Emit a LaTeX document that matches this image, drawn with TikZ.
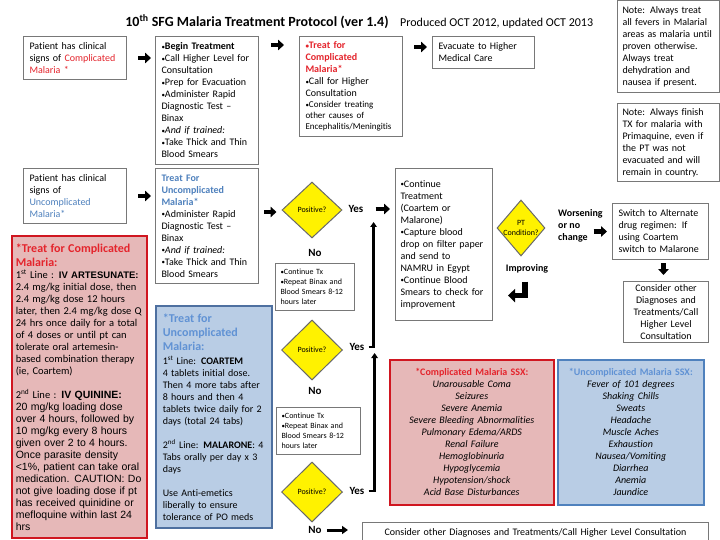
\documentclass[tikz,border=0pt]{standalone}
\usepackage{fontspec}
\setmainfont[Ligatures=NoCommon]{Carlito}
\newfontfamily\arialf{Liberation Sans}
\usetikzlibrary{arrows.meta,positioning,calc,shapes.geometric}
\definecolor{boxline}{RGB}{120,120,120}
\definecolor{cred}{RGB}{228,36,44}
\definecolor{redline}{RGB}{208,22,32}
\definecolor{redfill}{RGB}{230,184,184}
\definecolor{cblue}{RGB}{79,129,189}
\definecolor{ltblue}{RGB}{96,146,212}
\definecolor{bluefill}{RGB}{185,205,229}
\definecolor{blueline}{RGB}{78,112,160}
\definecolor{diaedge}{RGB}{105,105,105}
\newcommand\bul{\raisebox{0.4pt}{\fontsize{7}{7}\selectfont\textbullet}}
\tikzset{
  box/.style={draw=boxline, fill=white, line width=1pt, anchor=north west,
              inner xsep=6pt, inner ysep=4pt, align=left,
              font=\fontsize{10}{12}\selectfont},
  smallbox/.style={box, inner xsep=5pt, font=\fontsize{8}{10}\selectfont},
  redbox/.style={box, draw=redline, fill=redfill, line width=1.6pt},
  bluebox/.style={box, draw=blueline, fill=bluefill, line width=1.6pt},
  dia/.style={diamond, draw=diaedge, fill=yellow, line width=1pt, inner sep=0pt,
              align=center, font=\fontsize{8}{9.5}\selectfont},
  dialbl/.style={align=center, font=\fontsize{8}{9.5}\selectfont},
  ans/.style={font=\fontsize{11}{13}\selectfont\bfseries, inner sep=1pt},
  lbl/.style={font=\fontsize{10}{12}\selectfont\bfseries, inner sep=1pt, align=left},
  blkarr/.style={-{Triangle[length=6pt,width=10.5pt]}, line width=4.5pt},
  retarr/.style={-{Triangle[length=7pt,width=13pt]}, line width=5.5pt, line join=miter},
  uparr/.style={-{Triangle[length=5pt,width=6.5pt]}, line width=2.4pt},
  noarr/.style={-{Triangle[length=6pt,width=8pt]}, line width=3pt},
}
\begin{document}
\begin{tikzpicture}[x=1pt, y=-1pt]
  \useasboundingbox (0,0) rectangle (720,540);
  \node[font=\fontsize{14}{16}\selectfont\bfseries, anchor=base, inner sep=0pt] (title) at (257,27)
    {10\textsuperscript{th} SFG Malaria Treatment Protocol (ver 1.4)};
  \node[font=\fontsize{12}{14}\selectfont, anchor=base west, inner sep=0pt] (prod) at (400,27)
    {Produced OCT 2012, updated OCT 2013};

  \node[box, text width=91pt, minimum height=43pt] (a1) at (23,36)
    {Patient has clinical\\signs of \textcolor{cred}{Complicated}\\\textcolor{cred}{Malaria *}};
  \node[box, text width=91pt, minimum height=128pt] (a2) at (155,36)
    {\bul\textbf{Begin Treatment}\\\bul Call Higher Level for\\Consultation\\\bul Prep for Evacuation\\
     \bul Administer Rapid\\Diagnostic Test --\\Binax\\\bul\textit{And if trained:}\\
     \bul Take Thick and Thin\\Blood Smears};
  \node[box, text width=91pt, minimum height=100pt] (a3) at (299,36)
    {\textcolor{cred}{\bfseries\bul Treat for\\Complicated\\Malaria*}\\\bul Call for Higher\\Consultation\par
     {\fontsize{9}{11}\selectfont\bul Consider treating\\other causes of\\Encephalitis/Meningitis\par}};
  \node[box, text width=90pt, minimum height=32pt] (a4) at (432,36)
    {Evacuate to Higher\\Medical  Care};
  \node[box, inner xsep=5pt, text width=92pt, minimum height=92pt] (n1) at (617,0)
    {Note:  Always treat\\all fevers in Malarial\\areas as malaria until\\proven otherwise.\\
     Always  treat\\dehydration and\\nausea if present.};
  \node[box, inner xsep=5pt, text width=92pt, minimum height=78pt] (n2) at (617,103)
    {Note:  Always finish\\TX for malaria with\\Primaquine, even if\\the PT was not\\
     evacuated and will\\remain in country.};

  \node[box, text width=91pt, minimum height=55pt] (b1) at (23,168)
    {Patient has clinical\\signs of\\\textcolor{cblue}{Uncomplicated}\\\textcolor{cblue}{Malaria*}};
  \node[box, text width=91pt, minimum height=115pt] (b2) at (155,168)
    {\textcolor{cblue}{\bfseries Treat For\\Uncomplicated\\Malaria*}\\\bul Administer Rapid\\
     Diagnostic Test --\\Binax\\\bul\textit{And if trained:}\\\bul Take Thick and Thin\\Blood Smears};
  \node[dia, minimum width=60pt, minimum height=56pt] (d1) at (312,210) {Positive?};
  \node[ans] (yes1) at (356,209) {Yes};
  \node[ans] (no1) at (315,253) {No};
  \node[smallbox, text width=69pt, minimum height=47pt] (c1) at (275,263)
    {\bul Continue Tx\\\bul Repeat Binax and\\Blood Smears  8-12\\hours later};
  \node[box, inner xsep=5pt, text width=87pt, minimum height=152pt] (b3) at (395,168)
    {\bul Continue\\Treatment\\(Coartem or\\Malarone)\\\bul Capture blood\\drop on filter paper\\
     and send to\\NAMRU in Egypt\\\bul Continue Blood\\Smears to check for\\improvement};
  \node[dia, minimum width=48pt, minimum height=56pt,
        label={[dialbl]center:PT\\Condition?}] (d2) at (521,228) {};
  \node[lbl, anchor=west] (worse) at (557,226) {Worsening\\or no\\change};
  \node[lbl] (imp) at (527,269) {Improving};
  \node[box, inner xsep=6pt, text width=84pt, minimum height=56pt] (b4) at (612,203)
    {Switch to Alternate\\drug regimen: If\\using Coartem\\switch to Malarone};
  \node[box, align=center, inner xsep=4pt, inner ysep=0.5pt, text width=77pt,
        minimum height=61pt] (b5) at (623,281)
    {Consider other\\Diagnoses and\\Treatments/Call\\Higher Level\\Consultation};

  \node[redbox, inner xsep=4pt, text width=127pt, minimum height=302pt] (r1) at (11,235)
    {{\color{cred}\fontsize{12}{14}\selectfont\bfseries *Treat for Complicated\\Malaria:\par}
     {\fontsize{10.5}{12}\selectfont 1\textsuperscript{st} Line : {\arialf\bfseries\fontsize{9.5}{12}\selectfont IV ARTESUNATE:}\\
     2.4 mg/kg initial dose, then\\2.4 mg/kg dose 12 hours\\later, then 2.4 mg/kg dose Q\\
     24 hrs once daily for a total\\of 4 doses or until pt can\\tolerate oral artemesin-\\
     based combination therapy\\(ie, Coartem)\par}
     \vspace{12pt}
     {\fontsize{10.5}{12}\selectfont 2\textsuperscript{nd} Line : {\arialf\bfseries IV QUININE:}\\
     \arialf 20 mg/kg loading dose\\over 4 hours, followed by\\10 mg/kg every 8 hours\\
     given over 2 to 4 hours.\\Once parasite density\\<1\%, patient can take oral\\
     medication. CAUTION: Do\\not give loading dose if pt\\has received quinidine or\\
     mefloquine within last 24\\hrs\par}};
  \node[bluebox, inner xsep=7pt, text width=102pt, minimum height=222pt] (l1) at (155,305)
    {{\color{ltblue}\fontsize{12}{14}\selectfont\bfseries *Treat for\\Uncomplicated\\Malaria:\par}
     \vspace{2pt}
     1\textsuperscript{st} Line: \textbf{COARTEM}\\4 tablets  initial dose.\\Then 4 more tabs after\\
     8 hours and then 4\\tablets twice daily for 2\\days  (total 24 tabs)\par
     \vspace{12pt}
     2\textsuperscript{nd} Line: \textbf{MALARONE}: 4\\Tabs orally per day x 3\\days\par
     \vspace{12pt}
     Use Anti-emetics\\liberally to ensure\\tolerance of  PO meds};

  \node[dia, minimum width=61pt, minimum height=60pt] (d3) at (312,350) {Positive?};
  \node[ans] (yes2) at (357,347) {Yes};
  \node[ans] (no2) at (315,391) {No};
  \node[smallbox, text width=74pt, minimum height=47pt] (c2) at (276,407)
    {\bul Continue Tx\\\bul Repeat Binax and\\Blood Smears  8-12\\hours later};
  \node[dia, minimum width=61pt, minimum height=60pt] (d4) at (312,492) {Positive?};
  \node[ans] (yes3) at (357,491) {Yes};
  \node[ans] (no3) at (315,530) {No};

  \node[redbox, align=center, text width=152pt, minimum height=145pt] (ssx1) at (389,359)
    {\textcolor{cred}{\bfseries *Complicated Malaria SSX:}\\\itshape Unarousable Coma\\Seizures\\
     Severe Anemia\\Severe Bleeding  Abnormalities\\Pulmonary Edema/ARDS\\Renal Failure\\
     Hemoglobinuria\\Hypoglycemia\\Hypotension/shock\\Acid Base Disturbances};
  \node[bluebox, draw=cblue, align=center, text width=134pt, minimum height=145pt] (ssx2) at (557,359)
    {\textcolor{ltblue}{\bfseries *Uncomplicated Malaria SSX:}\\\itshape Fever of 101 degrees\\Shaking Chills\\
     Sweats\\Headache\\Muscle Aches\\Exhaustion\\Nausea/Vomiting\\Diarrhea\\Anemia\\Jaundice};
  \node[box, align=center, text width=334pt, minimum height=20pt] (cb) at (362,522)
    {Consider other Diagnoses and Treatments/Call Higher Level Consultation};

  \draw[blkarr, shorten <=11pt, shorten >=4pt] (a1.east) -- (a1.east -| a2.west);
  \draw[blkarr, shorten <=12pt, shorten >=15pt] ($(a2.north east)+(0,9)$) -- ($(a3.north west)+(0,9)$);
  \draw[blkarr, shorten <=11pt, shorten >=5pt] ($(a3.north east)+(0,11)$) -- ($(a4.north west)+(0,11)$);
  \draw[blkarr, shorten <=11pt, shorten >=4pt] (b1.east) -- (b1.east -| b2.west);
  \draw[blkarr, shorten <=5pt, shorten >=5pt] ($(b2.east |- d1.west)+(0,2)$) -- ($(d1.west)+(0,2)$);
  \draw[blkarr, shorten <=11pt, shorten >=5pt] (yes1.east) -- (yes1.east -| b3.west);
  \draw[blkarr, shorten <=48pt, shorten >=5pt] (d2.east |- b4.west) -- (b4.west);
  \draw[blkarr, shorten <=3pt, shorten >=6pt] ($(b4.south)+(3,0)$) -- ($(b4.south |- b5.north)+(3,0)$);
  \draw[retarr] ($(imp.south)+(-2,7)$) |- ($(imp.south)+(-19,21)$);
  \draw[uparr, shorten <=3pt] (yes3.east) -| ($(yes2.east)+(9,6)$);
  \draw[uparr, shorten <=3pt] (yes2.east) -| ($(yes1.east)+(9,13)$);
  \draw[noarr, shorten <=4pt, shorten >=14pt] (no3.east) -- (no3.east -| cb.west);
\end{tikzpicture}
\end{document}
